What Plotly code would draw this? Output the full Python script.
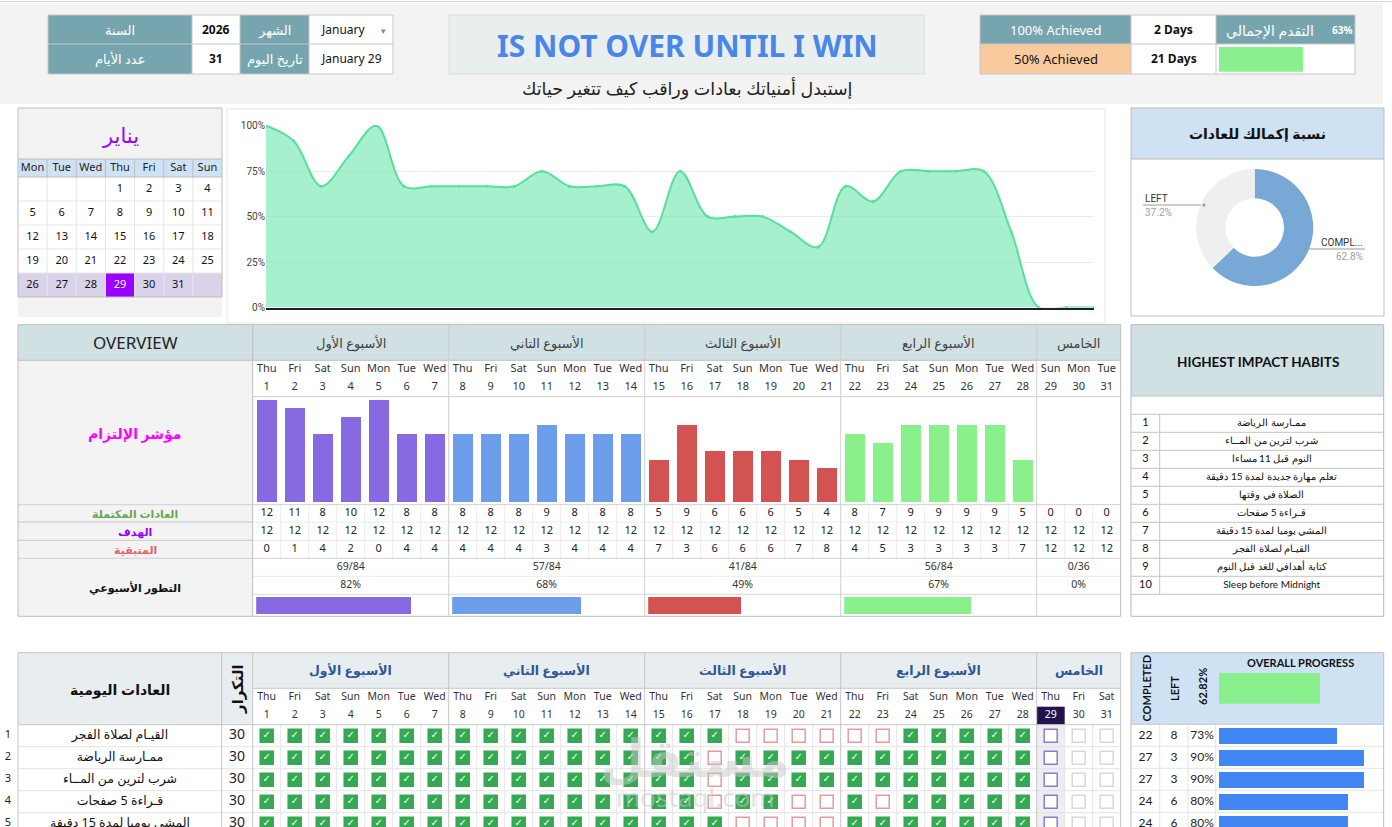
import datetime
import plotly.graph_objects as go

# ============================ DATA ============================
year = 2026
month_en = "January"
month_ar = "يناير"
today_text = "January 29"
days_count = 31
today_day = 29

calendar_headers = ["Mon", "Tue", "Wed", "Thu", "Fri", "Sat", "Sun"]
days = list(range(1, 32))
overview_day_names = ["Thu", "Fri", "Sat", "Sun", "Mon", "Tue", "Wed",
                      "Thu", "Fri", "Sat", "Sun", "Mon", "Tue", "Wed",
                      "Thu", "Fri", "Sat", "Sun", "Mon", "Tue", "Wed",
                      "Thu", "Fri", "Sat", "Sun", "Mon", "Tue", "Wed",
                      "Sun", "Mon", "Tue"]
tracker_day_names = ["Thu", "Fri", "Sat", "Sun", "Mon", "Tue", "Wed",
                     "Thu", "Fri", "Sat", "Sun", "Mon", "Tue", "Wed",
                     "Thu", "Fri", "Sat", "Sun", "Mon", "Tue", "Wed",
                     "Thu", "Fri", "Sat", "Sun", "Mon", "Tue", "Wed",
                     "Thu", "Fri", "Sat"]
week_titles = ["الأسبوع الأول", "الأسبوع التاني", "الأسبوع الثالث", "الأسبوع الرابع", "الخامس"]

completed_daily = [12, 11, 8, 10, 12, 8, 8, 8, 8, 8, 9, 8, 8, 8, 5, 9, 6, 6, 6, 5, 4,
                   8, 7, 9, 9, 9, 9, 5, 0, 0, 0]
target_daily = [12, 12, 12, 12, 12, 12, 12, 12, 12, 12, 12, 12, 12, 12, 12, 12, 12, 12, 12, 12, 12,
                12, 12, 12, 12, 12, 12, 12, 12, 12, 12]
remaining_daily = [0, 1, 4, 2, 0, 4, 4, 4, 4, 4, 3, 4, 4, 4, 7, 3, 6, 6, 6, 7, 8,
                   4, 5, 3, 3, 3, 3, 7, 12, 12, 12]
commitment_rate = [1.0, 0.917, 0.667, 0.833, 1.0, 0.667, 0.667, 0.667, 0.667, 0.667, 0.75,
                   0.667, 0.667, 0.667, 0.417, 0.75, 0.5, 0.5, 0.5, 0.417, 0.333,
                   0.667, 0.583, 0.75, 0.75, 0.75, 0.75, 0.417, 0.0, 0.0, 0.0]
week_done = [69, 57, 41, 56, 0]
week_goal = [84, 84, 84, 84, 36]
week_pct = [0.82, 0.68, 0.49, 0.67, 0.0]
week_mid_day = [4, 11, 18, 25, 30]

donut_labels = ["COMPLETED", "LEFT"]
donut_values = [62.8, 37.2]
overall_pct = 0.6282
days_100 = 2
days_50 = 21

impact_habits = ["ممـارسة الرياضة", "شرب لترين من المــاء", "النوم قبل 11 مساءا",
                 "تعلم مهارة جديدة لمدة 15 دقيقة", "الصلاة في وقتها", "قـراءة 5 صفحات",
                 "المشي يوميا لمدة 15 دقيقة", "القيـام لصلاة الفجر", "كتابة أهدافي للغد قبل النوم",
                 "Sleep before Midnight"]

tracker_habits = ["القيـام لصلاة الفجر", "ممـارسة الرياضة", "شرب لترين من المــاء",
                  "قـراءة 5 صفحات", "المشي يوميا لمدة 15 دقيقة"]
tracker_freq = [30, 30, 30, 30, 30]
tracker_checks = [
    [1, 1, 1, 1, 1, 1, 1, 1, 1, 1, 1, 1, 1, 1, 1, 1, 1, 0, 0, 0, 0, 0, 0, 1, 1, 1, 1, 1],
    [1, 1, 1, 1, 1, 1, 1, 1, 1, 1, 1, 1, 1, 1, 1, 1, 0, 1, 1, 1, 1, 1, 1, 1, 1, 1, 1, 1],
    [1, 1, 1, 1, 1, 1, 1, 1, 1, 1, 1, 1, 1, 1, 1, 1, 0, 1, 1, 1, 1, 1, 1, 1, 1, 1, 1, 1],
    [1, 1, 1, 1, 1, 1, 1, 1, 1, 1, 1, 1, 1, 1, 1, 1, 0, 1, 1, 0, 0, 1, 0, 1, 1, 1, 1, 1],
    [1, 1, 1, 1, 1, 1, 1, 1, 1, 1, 1, 1, 1, 1, 1, 1, 1, 0, 0, 0, 0, 1, 1, 1, 1, 1, 1, 1],
]
tracker_completed = [22, 27, 27, 24, 24]
tracker_left = [8, 3, 3, 6, 6]
tracker_pct = [0.73, 0.90, 0.90, 0.80, 0.80]

# ============================ STYLE ============================
W, H = 1392, 827
FONT = "Noto Sans, DejaVu Sans, sans-serif"
CAL = "Lato, Open Sans, sans-serif"
TEAL = "#76a5af"
HDR = "#d0e0e3"
LBLUE = "#cfe2f3"
GREY = "#f3f3f3"
BORDER = "#bdbdbd"
week_colors = ["#8769e2", "#6d9eeb", "#d35353", "#8af08c", "#8af08c"]

COL0, CW = 252.7, 28.0
OV_R = COL0 + 31 * CW


def px(x):
    return x / W


def py(y):
    return 1 - y / H


shapes, annos = [], []


def box(x0, y0, x1, y1, fill=None, line=None, lw=1):
    shapes.append(dict(type="rect", xref="paper", yref="paper",
                       x0=px(x0), x1=px(x1), y0=py(y1), y1=py(y0),
                       fillcolor=fill if fill else "rgba(0,0,0,0)",
                       line=dict(color=line if line else "rgba(0,0,0,0)", width=lw if line else 0),
                       layer="below"))


def seg(x0, y0, x1, y1, color=BORDER, lw=1):
    shapes.append(dict(type="line", xref="paper", yref="paper",
                       x0=px(x0), x1=px(x1), y0=py(y0), y1=py(y1),
                       line=dict(color=color, width=lw), layer="below"))


def label(x, y, s, size=12, color="#222", bold=False, family=FONT, xanchor="center", angle=0, opacity=1):
    annos.append(dict(xref="paper", yref="paper", x=px(x), y=py(y),
                      text=f"<b>{s}</b>" if bold else s, showarrow=False,
                      xanchor=xanchor, yanchor="middle", textangle=angle, opacity=opacity,
                      font=dict(size=size, color=color, family=family)))


traces = []


def text_trace(x, y, t, xaxis="x", yaxis="y", size=11, color="#222", family=FONT):
    traces.append(go.Scatter(x=x, y=y, text=t, mode="text", xaxis=xaxis, yaxis=yaxis,
                             textfont=dict(size=size, color=color, family=family),
                             hoverinfo="skip", showlegend=False, cliponaxis=False))


# ============================ HEADER ============================
box(0, 3, 1383, 104, GREY)
seg(0, 1.5, 1392, 1.5, "#d6d6d6")

# left info table
box(48, 15, 192, 74, TEAL)
box(240, 15, 309, 74, TEAL)
box(192, 15, 240, 74, "white")
box(309, 15, 393, 74, "white")
box(48, 15, 393, 74, None, "#c8c8c8")
seg(48, 44, 393, 44, "#c8c8c8")
for xv in (192, 240, 309):
    seg(xv, 15, xv, 74, "#c8c8c8")
label(120, 29.5, "السنة", 13, "white")
label(120, 59, "عدد الأيام", 13, "white")
label(216, 29.5, str(year), 12, "#111", bold=True)
label(216, 59, str(days_count), 12, "#111", bold=True)
label(274.5, 29.5, "الشهر", 13, "white")
label(274.5, 59, "تاريخ اليوم", 13, "white")
label(343, 29.5, month_en, 12, "#111")
label(383, 30, "▾", 9, "#888")
label(351, 59, today_text, 12, "#111")

# title
box(449, 15, 924, 74, "#e9eeee", "#dcdcdc")
label(687, 45, "IS NOT OVER UNTIL I WIN", 30, "#4a86e8", bold=True)
label(687, 88, "إستبدل أمنياتك بعادات وراقب كيف تتغير حياتك", 17.5, "#222")

# right info table
box(980, 15, 1131, 44, TEAL)
box(980, 44, 1131, 74, "#f9cb9c")
box(1131, 15, 1216, 74, "white")
box(1216, 15, 1355, 44, TEAL)
box(1216, 44, 1355, 74, "white")
box(980, 15, 1355, 74, None, "#c8c8c8")
seg(980, 44, 1355, 44, "#c8c8c8")
for xv in (1131, 1216):
    seg(xv, 15, xv, 74, "#c8c8c8")
label(1055.5, 29.5, "100% Achieved", 13, "white")
label(1055.5, 59, "50% Achieved", 13, "#111")
label(1173.5, 29.5, f"{days_100} Days", 12, "#111", bold=True)
label(1173.5, 59, f"{days_50} Days", 12, "#111", bold=True)
label(1270, 30, "التقدم الإجمالي", 14, "white")
label(1342, 29.5, f"{round(overall_pct * 100)}%", 10, "white", bold=True)
traces.append(go.Bar(x=[overall_pct], y=[0], orientation="h", width=1, xaxis="x9", yaxis="y5",
                     marker=dict(color="#8af08e", line=dict(width=0)), hoverinfo="skip", showlegend=False))

# ============================ CALENDAR ============================
cal_l, cal_r = 18, 222
ccw = (cal_r - cal_l) / 7
box(cal_l, 108, cal_r, 159, GREY)
box(cal_l, 159, cal_r, 177, LBLUE)
box(cal_l, 177, cal_r, 273, "white")
box(cal_l, 273, cal_r, 297, "#d9d2e9")
box(cal_l, 297, cal_r, 317, GREY)
first_wd = datetime.date(year, 1, 1).weekday()
cal_x, cal_y, cal_t, cal_c = [], [], [], []
for d in days:
    pos = first_wd + d - 1
    col, row = pos % 7, pos // 7
    cx = cal_l + ccw * (col + 0.5)
    cy = 177 + 24 * (row + 0.5)
    if d == today_day:
        box(cal_l + ccw * col, 273, cal_l + ccw * (col + 1), 297, "#9900ff")
    cal_x.append(cx)
    cal_y.append(cy)
    cal_t.append(str(d))
    cal_c.append("white" if d == today_day else "#111")
for r in range(1, 5):
    seg(cal_l, 177 + 24 * r, cal_r, 177 + 24 * r, "#e6e6e6")
for c in range(1, 7):
    seg(cal_l + ccw * c, 159, cal_l + ccw * c, 177, BORDER)
    seg(cal_l + ccw * c, 177, cal_l + ccw * c, 297, "#e6e6e6")
seg(cal_l, 159, cal_r, 159, BORDER)
seg(cal_l, 177, cal_r, 177, BORDER)
box(cal_l, 108, cal_r, 297, None, BORDER)
label(120, 135, month_ar, 21, "#9900ff")
text_trace([cal_l + ccw * (i + 0.5) for i in range(7)], [168] * 7, calendar_headers, size=11, color="#222")
traces.append(go.Scatter(x=cal_x, y=cal_y, text=cal_t, mode="text", xaxis="x", yaxis="y",
                         textfont=dict(size=11, color=cal_c, family=FONT), hoverinfo="skip",
                         showlegend=False, cliponaxis=False))

# ============================ AREA CHART ============================
box(227, 109, 1105, 323, "white", "#e6e6e6")
traces.append(go.Scatter(x=days, y=commitment_rate, mode="lines+markers", xaxis="x3", yaxis="y3",
                         line=dict(color="#57e09c", width=2, shape="spline", smoothing=1),
                         marker=dict(size=3, color="#57e09c"),
                         fill="tozeroy", fillcolor="rgba(120,232,178,0.65)",
                         hoverinfo="skip", showlegend=False))

# ============================ DONUT ============================
box(1131, 108, 1384, 159, LBLUE)
box(1131, 159, 1384, 316, "white")
box(1131, 108, 1384, 316, None, BORDER)
seg(1131, 159, 1384, 159, BORDER)
label(1257, 133, "نسبة إكمالك للعادات", 14, "#111", bold=True)
dcx, dcy, dr = 1254.7, 227.5, 58.5
traces.append(go.Pie(values=donut_values, labels=donut_labels, hole=0.5, sort=False,
                     direction="clockwise", rotation=0, textinfo="none",
                     marker=dict(colors=["#78a8d6", "#efefef"], line=dict(width=0)),
                     domain=dict(x=[px(dcx - dr), px(dcx + dr)], y=[py(dcy + dr), py(dcy - dr)]),
                     hoverinfo="skip", showlegend=False))
seg(1143, 205, 1204, 205, "#999999", 1.2)
seg(1305.7, 249, 1365, 249, "#999999", 1.2)
for (cx, cy) in ((1204, 205), (1305.7, 249)):
    shapes.append(dict(type="circle", xref="paper", yref="paper", x0=px(cx - 1.6), x1=px(cx + 1.6),
                       y0=py(cy + 1.6), y1=py(cy - 1.6), fillcolor="#999999", line=dict(width=0)))
label(1143, 198, donut_labels[1], 10, "#333", family="Roboto, Liberation Sans, sans-serif", xanchor="left")
label(1143, 212, f"{donut_values[1]}%", 10, "#a0a0a0", family="Roboto, Liberation Sans, sans-serif", xanchor="left")
label(1365, 242.5, "COMPL...", 10, "#333", family="Roboto, Liberation Sans, sans-serif", xanchor="right")
label(1365, 256, f"{donut_values[0]}%", 10, "#a0a0a0", family="Roboto, Liberation Sans, sans-serif", xanchor="right")

# ============================ OVERVIEW ============================
OT, OH, ODIV, OBB = 324.7, 360.3, 396.7, 504.7
ROWS = [504.7, 522.0, 540.3, 558.3, 576.3, 594.3, 616.3]
box(18, OT, OV_R, OH, HDR)
box(18, OH, COL0, ROWS[-1], GREY)
box(COL0, OH, OV_R, ROWS[-1], "white")
for d in range(1, 31):
    xv = COL0 + CW * d
    if d % 7 != 0:
        seg(xv, ROWS[0], xv, ROWS[3], "#ececec")
seg(COL0, ODIV, OV_R, ODIV, "#d0d0d0")
seg(18, ROWS[0], OV_R, ROWS[0], "#d0d0d0")
seg(COL0, ROWS[1], OV_R, ROWS[1], "#ececec")
seg(COL0, ROWS[2], OV_R, ROWS[2], "#ececec")
seg(18, ROWS[1], COL0, ROWS[1], "#c8c8c8")
seg(18, ROWS[2], COL0, ROWS[2], "#c8c8c8")
seg(18, ROWS[3], OV_R, ROWS[3], "#d0d0d0")
seg(COL0, ROWS[4], OV_R, ROWS[4], "#ececec")
seg(COL0, ROWS[5], OV_R, ROWS[5], "#d8d8d8")
seg(18, OH, OV_R, OH, BORDER)
seg(COL0, OT, COL0, ROWS[-1], BORDER)
for w in range(1, 5):
    xv = COL0 + 7 * CW * w
    seg(xv, OT, xv, ROWS[-1], "#cfcfcf")
box(18, OT, OV_R, ROWS[-1], None, BORDER)

label(135, 342.5, "OVERVIEW", 17, "#222")
for w in range(5):
    x0 = COL0 + 7 * CW * w
    x1 = min(x0 + 7 * CW, OV_R)
    label((x0 + x1) / 2, 342.5, week_titles[w], 13, "#434343")
label(135, 433, "مؤشر الإلتزام", 14, "#ff00ff", bold=True)
label(135, 513.3, "العادات المكتملة", 11, "#6aa84f", bold=True)
label(135, 531.2, "الهدف", 11, "#9900ff", bold=True)
label(135, 549.3, "المتبقية", 11, "#e06666", bold=True)
label(135, 587.3, "التطور الأسبوعي", 11, "#111", bold=True)

text_trace(days, [369.7] * 31, overview_day_names, xaxis="x2", size=11, color="#333")
text_trace(days, [387.7] * 31, [str(d) for d in days], xaxis="x2", size=11, color="#333")
text_trace(days, [513.3] * 31, [str(v) for v in completed_daily], xaxis="x2", size=11, color="#222")
text_trace(days, [531.2] * 31, [str(v) for v in target_daily], xaxis="x2", size=11, color="#222")
text_trace(days, [549.3] * 31, [str(v) for v in remaining_daily], xaxis="x2", size=11, color="#222")
text_trace(week_mid_day, [567.3] * 5, [f"{a}/{b}" for a, b in zip(week_done, week_goal)],
           xaxis="x2", size=10.5, color="#333")
text_trace(week_mid_day, [585.3] * 5, [f"{round(p * 100)}%" for p in week_pct],
           xaxis="x2", size=10.5, color="#333")

bar_colors = [week_colors[(d - 1) // 7] for d in days]
traces.append(go.Bar(x=days, y=completed_daily, xaxis="x2", yaxis="y2", width=0.72,
                     marker=dict(color=bar_colors, line=dict(width=0)), hoverinfo="skip", showlegend=False))
for w in range(5):
    traces.append(go.Bar(x=[week_pct[w]], y=[0], orientation="h", width=1,
                         xaxis=f"x{4 + w}", yaxis="y4",
                         marker=dict(color=week_colors[w], line=dict(width=0)),
                         hoverinfo="skip", showlegend=False))

# ============================ HIGHEST IMPACT ============================
HT, HB = 324.7, 616.3
box(1131, HT, 1383.7, 396, HDR)
box(1131, 396, 1383.7, HB, "white")
for i in range(12):
    yv = 396 + (18.3 if i > 0 else 0) + 18 * max(i - 1, 0)
    seg(1131, yv, 1383.7, yv, "#c4c4c4")
seg(1159.7, 414.3, 1159.7, 594.3, "#c4c4c4")
box(1131, HT, 1383.7, HB, None, "#b7b7b7")
label(1257.5, 362, "HIGHEST IMPACT HABITS", 13.5, "#111", bold=True, family=CAL)
hy = [423.3 + 18 * i for i in range(len(impact_habits))]
text_trace([1145.5] * 10, hy, [str(i + 1) for i in range(10)], size=11, color="#111", family=CAL)
text_trace([1271.7] * 10, hy, impact_habits, size=10, color="#111", family=CAL)

# ============================ TRACKER TABLE ============================
BT, BW, BH = 652.7, 688.3, 724.7
box(18, BT, COL0, BH, "#e8eef0")
box(COL0, BT, OV_R, BW, "#e8eef0")
box(COL0, BW, OV_R, BH, "white")
box(18, BH, OV_R, H, "white")
tcol = COL0 + CW * (today_day - 1)
box(tcol, 706.7, tcol + CW, BH, "#20124d")
box(tcol, BH, tcol + CW, H, "#eeecf4")
for d in range(1, 31):
    xv = COL0 + CW * d
    if d % 7 != 0:
        seg(xv, BH, xv, H, "#e6e6e6")
for r in range(1, 5):
    seg(18, BH + 22 * r, OV_R, BH + 22 * r, "#e3e3e3")
seg(18, BT, OV_R, BT, "#c6c6c6")
seg(COL0, BW, OV_R, BW, "#c6c6c6")
seg(18, BH, OV_R, BH, "#c6c6c6")
for xv in (18, 221.7, COL0, OV_R):
    seg(xv, BT, xv, H, "#c6c6c6")
for w in range(1, 5):
    xv = COL0 + 7 * CW * w
    seg(xv, BT, xv, H, "#c6c6c6")

label(120, 689, "العادات اليومية", 14, "#111", bold=True)
label(237, 689, "التكرار", 15, "#111", bold=True, angle=-90)
for w in range(5):
    x0 = COL0 + 7 * CW * w
    x1 = min(x0 + 7 * CW, OV_R)
    label((x0 + x1) / 2, 670.5, week_titles[w], 12.5, "#2f5597", bold=True)
text_trace(days, [697.7] * 31, tracker_day_names, xaxis="x2", size=10.5, color="#333")
text_trace(days, [715.7] * 31, [str(d) for d in days], xaxis="x2", size=10.5,
           color=["white" if d == today_day else "#333" for d in days])

rows_idx = list(range(len(tracker_habits)))
text_trace([8] * 5, rows_idx, [str(i + 1) for i in rows_idx], yaxis="y7", size=11, color="#222")
text_trace([120] * 5, rows_idx, tracker_habits, yaxis="y7", size=12.5, color="#111")
text_trace([237] * 5, rows_idx, [str(v) for v in tracker_freq], yaxis="y7", size=14, color="#222")

cbx, cby, cbfill, cbline, cbtext = [], [], [], [], []
for r, checks in enumerate(tracker_checks):
    for d in days:
        cbx.append(d)
        cby.append(r)
        if d <= len(checks):
            if checks[d - 1]:
                cbfill.append("#34a853"); cbline.append("#34a853"); cbtext.append("✓")
            else:
                cbfill.append("white"); cbline.append("#e89a9a"); cbtext.append("")
        elif d == today_day:
            cbfill.append("white"); cbline.append("#8e7cc3"); cbtext.append("")
        else:
            cbfill.append("white"); cbline.append("#d9d9d9"); cbtext.append("")
traces.append(go.Scatter(x=cbx, y=cby, mode="markers+text", xaxis="x2", yaxis="y7",
                         marker=dict(symbol="square", size=13, color=cbfill,
                                     line=dict(color=cbline, width=1.5)),
                         text=cbtext, textposition="middle center",
                         textfont=dict(size=10, color="white", family="DejaVu Sans"),
                         hoverinfo="skip", showlegend=False, cliponaxis=False))

# watermark
label(695, 756, "مستقل", 52, "#c8c8c8", bold=True, opacity=0.5)
label(695, 797, "mostaql.com", 26, "#c8c8c8", opacity=0.5)

# ============================ OVERALL PROGRESS ============================
box(1131, BT, 1383.7, 724.3, LBLUE)
box(1131, 724.3, 1383.7, H, "white")
for r in range(1, 5):
    seg(1131, 724.3 + 22 * r, 1383.7, 724.3 + 22 * r, "#e3e3e3")
for xv in (1159.7, 1188, 1215.7):
    seg(xv, 724.3, xv, H, "#e3e3e3")
seg(1131, 724.3, 1383.7, 724.3, "#c6c6c6")
box(1131, BT, 1383.7, H + 5, None, BORDER)
label(1145.5, 688, "COMPLETED", 11, "#111", bold=True, family=CAL, angle=-90)
label(1174, 689, "LEFT", 11, "#111", bold=True, family=CAL, angle=-90)
label(1202, 687, f"{overall_pct * 100:.2f}%", 11, "#111", bold=True, family=CAL, angle=-90)
label(1300, 662, "OVERALL PROGRESS", 11, "#111", bold=True, family=CAL)
traces.append(go.Bar(x=[overall_pct], y=[0], orientation="h", width=1, xaxis="x10", yaxis="y6",
                     marker=dict(color="#8af08e", line=dict(width=0)), hoverinfo="skip", showlegend=False))
traces.append(go.Bar(x=tracker_pct, y=rows_idx, orientation="h", width=0.77, xaxis="x10", yaxis="y7",
                     marker=dict(color="#4285f4", line=dict(width=0)), hoverinfo="skip", showlegend=False))
text_trace([1145.5] * 5, rows_idx, [str(v) for v in tracker_completed], yaxis="y7", size=12, color="#222", family=CAL)
text_trace([1174] * 5, rows_idx, [str(v) for v in tracker_left], yaxis="y7", size=12, color="#222", family=CAL)
text_trace([1202] * 5, rows_idx, [f"{round(p * 100)}%" for p in tracker_pct], yaxis="y7", size=12, color="#222", family=CAL)

# ============================ FIGURE ============================
fig = go.Figure(data=traces)
hidden = dict(visible=False, fixedrange=True, automargin=False)
axes = dict(
    xaxis=dict(domain=[0, 1], range=[0, W], **hidden),
    yaxis=dict(domain=[0, 1], range=[H, 0], **hidden),
    xaxis2=dict(domain=[px(COL0), px(OV_R)], range=[0.5, 31.5], anchor="y", **hidden),
    yaxis2=dict(domain=[py(502), py(397.5)], range=[0, 12.2], anchor="x2", **hidden),
    xaxis3=dict(domain=[px(266), px(1094)], range=[1, 31], anchor="y3", showline=True,
                linecolor="#222", linewidth=1.5, showticklabels=False, showgrid=False,
                zeroline=False, ticks="", fixedrange=True, automargin=False),
    yaxis3=dict(domain=[py(307.5), py(125)], range=[0, 1.004], anchor="x3",
                tickvals=[0, 0.25, 0.5, 0.75, 1], tickformat=".0%", showgrid=True,
                gridcolor="#ececec", zeroline=False, showline=False, ticks="",
                tickfont=dict(size=10, color="#444", family="Roboto, Liberation Sans, sans-serif"),
                fixedrange=True, automargin=False),
    yaxis4=dict(domain=[py(614), py(597)], range=[-0.5, 0.5], anchor="x4", **hidden),
    yaxis5=dict(domain=[py(71.7), py(47)], range=[-0.5, 0.5], anchor="x9", **hidden),
    yaxis6=dict(domain=[py(703.7), py(673)], range=[-0.5, 0.5], anchor="x10", **hidden),
    yaxis7=dict(domain=[0, py(724.7)], range=[4.15, -0.5], anchor="x10", **hidden),
    xaxis9=dict(domain=[px(1219), px(1352.7)], range=[0, 1], anchor="y5", **hidden),
    xaxis10=dict(domain=[px(1219), px(1380)], range=[0, 1], anchor="y6", **hidden),
)
for w in range(5):
    left = COL0 + 7 * CW * w + 3.5
    axes[f"xaxis{4 + w}"] = dict(domain=[px(left), px(left + 189)], range=[0, 1], anchor="y4", **hidden)

fig.update_layout(
    width=W, height=H, autosize=False,
    margin=dict(l=0, r=0, t=0, b=0, pad=0, autoexpand=False),
    paper_bgcolor="white", plot_bgcolor="rgba(0,0,0,0)",
    showlegend=False, shapes=shapes, annotations=annos,
    font=dict(family=FONT, size=11, color="#222"),
    bargap=0, hovermode=False,
    **axes,
)
fig.write_html("out.html")
